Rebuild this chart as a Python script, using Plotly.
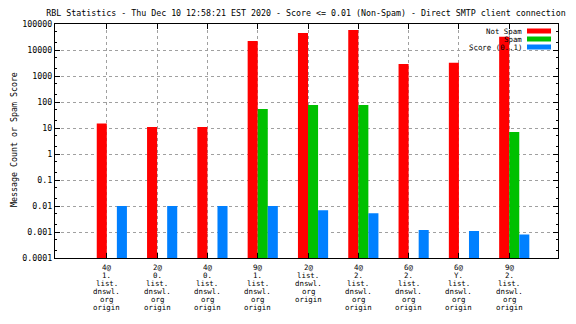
import plotly.graph_objects as go

categories = [
    "4@\n1.\nlist.\ndnswl.\norg\norigin",
    "2@\n0.\nlist.\ndnswl.\norg\norigin",
    "4@\n0.\nlist.\ndnswl.\norg\norigin",
    "9@\n1.\nlist.\ndnswl.\norg\norigin",
    "2@\nlist.\ndnswl.\norg\norigin",
    "4@\n2.\nlist.\ndnswl.\norg\norigin",
    "6@\n2.\nlist.\ndnswl.\norg\norigin",
    "6@\nY.\nlist.\ndnswl.\norg\norigin",
    "9@\n2.\nlist.\ndnswl.\norg\norigin",
]
not_spam = [15, 11, 11, 22000, 45000, 59000, 2900, 3200, 32000]
spam = [None, None, None, 54, 77, 77, None, None, 7]
score = [0.01, 0.01, 0.01, 0.01, 0.0068, 0.0053, 0.0012, 0.0011, 0.0008]
series_names = ["Not Spam", "Spam", "Score (0..1)"]
series_colors = ["#ff0000", "#00c000", "#0080ff"]
ytick_vals = [1e-4, 1e-3, 1e-2, 1e-1, 1, 10, 100, 1000, 10000, 100000]
ytick_text = ["0.0001", "0.001", "0.01", "0.1", "1", "10", "100", "1000", "10000", "100000"]
title_text = "RBL Statistics - Thu Dec 10 12:58:21 EST 2020 - Score <= 0.01 (Non-Spam) - Direct SMTP client connection"
ytitle = "Message Count or Spam Score"

FONT = "DejaVu Sans Mono"
FS = 8.3
FS_SMALL = 7.4
W, H = 576, 324
L, R, T, B = 55, 558, 24, 258

xs = list(range(len(categories)))
fig = go.Figure()
offsets = [-0.2, 0.0, 0.2]
for vals, name, col, off in zip([not_spam, spam, score], series_names, series_colors, offsets):
    fig.add_trace(go.Bar(x=xs, y=vals, name=name, marker=dict(color=col, line=dict(width=0)),
                         width=0.2, offset=off, showlegend=False))

fig.update_layout(
    width=W, height=H, barmode="overlay",
    margin=dict(l=L, r=W - R, t=T, b=H - B),
    paper_bgcolor="white", plot_bgcolor="white",
    font=dict(family=FONT, size=FS, color="black"),
    title=dict(text=title_text, x=306 / W, xanchor="center", y=1 - 13 / H, yanchor="middle",
               font=dict(family=FONT, size=FS, color="black")),
)
fig.update_xaxes(range=[-1.03, 8.97], tickvals=xs, ticktext=[""] * len(xs),
                 showgrid=True, gridcolor="#a0a0a0", griddash="3px,3px", gridwidth=1,
                 ticks="inside", ticklen=5, tickcolor="black", mirror="ticks",
                 showline=True, linecolor="black", linewidth=1, zeroline=False)
fig.update_yaxes(type="log", range=[-4, 5], tickvals=ytick_vals, ticktext=ytick_text,
                 showgrid=True, gridcolor="#a0a0a0", griddash="3px,3px", gridwidth=1,
                 ticks="inside", ticklen=5, tickcolor="black", mirror="ticks",
                 showline=True, linecolor="black", linewidth=1, zeroline=False,
                 minor=dict(ticks="inside", ticklen=2, tickcolor="black", dtick="D2", showgrid=False),
                 tickfont=dict(family=FONT, size=FS))

# x tick labels (multi-line, tight spacing)
for i, lab in enumerate(categories):
    for j, line in enumerate(lab.split("\n")):
        fig.add_annotation(x=i, xref="x", y=0, yref="paper", yanchor="middle",
                           yshift=-(9 + 8 * j), text=line, showarrow=False, borderpad=0,
                           font=dict(family=FONT, size=FS_SMALL, color="black"))

# y axis title
fig.add_annotation(x=0, xref="paper", xshift=-(L - 7), y=(B - 140) / (B - T), yref="paper",
                   text=ytitle, textangle=-90, showarrow=False,
                   font=dict(family=FONT, size=FS, color="black"))

# legend (text right-aligned, swatch on the right)
for k, (name, col) in enumerate(zip(series_names, series_colors)):
    yc = 31 + 8 * k
    py = (B - yc) / (B - T)
    fig.add_annotation(x=(523 - L) / (R - L), xref="paper", xanchor="right", y=py, yref="paper",
                       yanchor="middle", text=name, showarrow=False, borderpad=0,
                       font=dict(family=FONT, size=FS_SMALL, color="black"))
    fig.add_shape(type="rect", xref="paper", yref="paper",
                  x0=(527 - L) / (R - L), x1=(551 - L) / (R - L),
                  y0=(B - yc - 2.5) / (B - T), y1=(B - yc + 2.5) / (B - T),
                  fillcolor=col, line=dict(width=0), layer="above")

fig.write_html("out.html")
